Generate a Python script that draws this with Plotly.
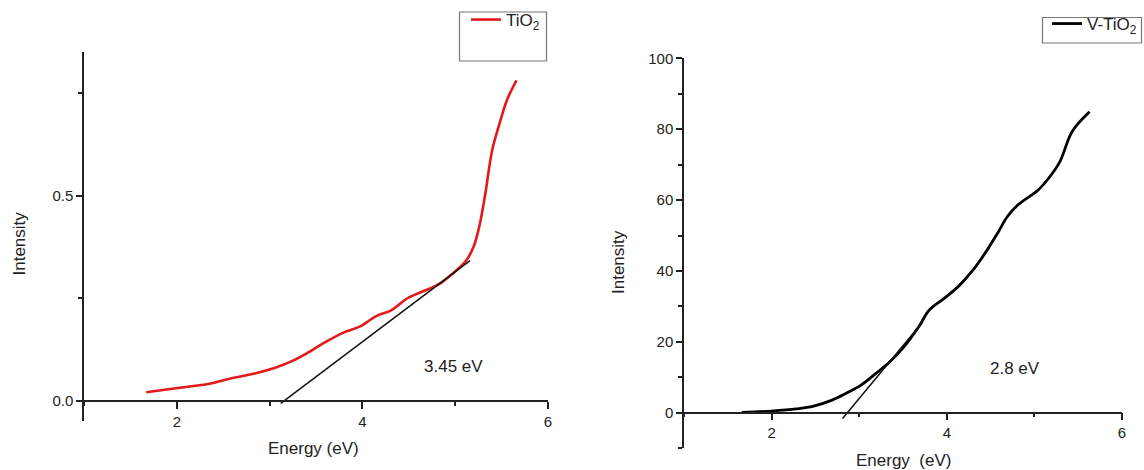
import plotly.graph_objects as go

# ---- data ----
tio2_energy = [1.67, 2.03, 2.35, 2.60, 2.84, 3.06, 3.24, 3.40, 3.59, 3.79, 3.97, 4.15,
               4.31, 4.49, 4.66, 4.82, 4.98, 5.12, 5.20, 5.26, 5.32, 5.40, 5.48, 5.56, 5.66]
tio2_intensity = [0.020, 0.031, 0.041, 0.055, 0.066, 0.080, 0.096, 0.115, 0.141, 0.165, 0.180, 0.206,
                  0.220, 0.250, 0.267, 0.283, 0.311, 0.342, 0.376, 0.425, 0.498, 0.612, 0.677, 0.734, 0.781]
tio2_tangent_x = [3.12, 5.16]
tio2_tangent_y = [-0.007, 0.341]

vtio2_energy = [1.66, 2.00, 2.28, 2.48, 2.69, 2.85, 3.02, 3.18, 3.35, 3.51, 3.68, 3.80, 3.97,
                4.13, 4.30, 4.46, 4.59, 4.69, 4.81, 5.04, 5.16, 5.29, 5.43, 5.63]
vtio2_intensity = [0.1, 0.5, 1.1, 1.9, 3.6, 5.5, 7.8, 10.9, 14.4, 18.6, 24.3, 29.0, 32.3,
                   35.6, 40.3, 45.9, 51.1, 55.3, 58.6, 62.8, 66.1, 70.8, 79.3, 84.9]
vtio2_tangent_x = [2.81, 3.72]
vtio2_tangent_y = [-1.6, 25.5]

band_gap_labels = ["3.45 eV", "2.8 eV"]

W, H = 1144, 470
FONT = "Liberation Sans, Arial, sans-serif"
AX = "#222222"

fig = go.Figure()
fig.add_trace(go.Scatter(x=tio2_energy, y=tio2_intensity, mode="lines", line=dict(color="#e3191b", width=2.6, shape="spline"),
                         name="TiO<sub>2</sub>", xaxis="x", yaxis="y", legend="legend"))
fig.add_trace(go.Scatter(x=tio2_tangent_x, y=tio2_tangent_y, mode="lines", line=dict(color="#111", width=1.5),
                         showlegend=False, xaxis="x", yaxis="y"))
fig.add_trace(go.Scatter(x=vtio2_energy, y=vtio2_intensity, mode="lines", line=dict(color="#000", width=2.8, shape="spline"),
                         name="V-TiO<sub>2</sub>", xaxis="x2", yaxis="y2", legend="legend2"))
fig.add_trace(go.Scatter(x=vtio2_tangent_x, y=vtio2_tangent_y, mode="lines", line=dict(color="#111", width=1.5),
                         showlegend=False, xaxis="x2", yaxis="y2"))

def px_x(p):
    return p / W

def px_y(p):
    return 1 - p / H

common = dict(showline=True, linecolor=AX, linewidth=1.5, ticks="outside", tickcolor=AX, tickwidth=1.5,
              showgrid=False, zeroline=False, automargin=False,
              tickfont=dict(family=FONT, size=15, color=AX))

fig.update_layout(
    template="none",
    width=W, height=H, margin=dict(l=0, r=0, t=0, b=0, pad=0, autoexpand=False),
    paper_bgcolor="white", plot_bgcolor="white",
    font=dict(family=FONT, color=AX),
    xaxis=dict(domain=[px_x(84), px_x(548)], range=[1, 6], anchor="free", position=px_y(401),
               dtick=2, tick0=0, ticklen=7, minor=dict(dtick=1, ticklen=4, ticks="outside", tickcolor=AX), **common),
    yaxis=dict(domain=[px_y(421), px_y(52)], range=[-0.05, 0.85], anchor="x",
               dtick=0.5, tick0=0, tickformat=".1f", ticklen=6,
               minor=dict(dtick=0.25, ticklen=4, ticks="outside", tickcolor=AX), **common),
    xaxis2=dict(domain=[px_x(684), px_x(1122)], range=[1, 6], anchor="free", position=px_y(412.7),
                dtick=2, tick0=0, ticklen=7, minor=dict(dtick=1, ticklen=4, ticks="outside", tickcolor=AX), **common),
    yaxis2=dict(domain=[px_y(448.3), px_y(58.3)], range=[-10, 100], anchor="x2",
                dtick=20, tick0=0, ticklen=6,
                minor=dict(dtick=10, ticklen=4, ticks="outside", tickcolor=AX), **common),
    legend=dict(x=px_x(466), y=px_y(2), xanchor="left", yanchor="top", bgcolor="rgba(0,0,0,0)",
                borderwidth=0, font=dict(family=FONT, size=17, color=AX)),
    legend2=dict(x=px_x(1047), y=px_y(6), xanchor="left", yanchor="top", bgcolor="rgba(0,0,0,0)",
                 borderwidth=0, font=dict(family=FONT, size=17, color=AX)),
    shapes=[
        dict(type="rect", xref="paper", yref="paper", x0=px_x(459.5), x1=px_x(546.5), y0=px_y(61), y1=px_y(12),
             line=dict(color="#777", width=1.2)),
        dict(type="rect", xref="paper", yref="paper", x0=px_x(1042.5), x1=px_x(1141.5), y0=px_y(43), y1=px_y(17.5),
             line=dict(color="#777", width=1.2)),
    ],
    annotations=[
        dict(text=band_gap_labels[0], x=4.98, y=0.083, xref="x", yref="y", showarrow=False,
             xanchor="center", yanchor="middle", font=dict(family=FONT, size=17, color=AX)),
        dict(text=band_gap_labels[1], x=4.78, y=12.6, xref="x2", yref="y2", showarrow=False,
             xanchor="center", yanchor="middle", font=dict(family=FONT, size=17, color=AX)),
        dict(text="Energy (eV)", x=px_x(313), y=px_y(448), xref="paper", yref="paper", showarrow=False,
             xanchor="center", yanchor="middle", font=dict(family=FONT, size=17, color=AX)),
        dict(text="Energy \u00a0(eV)", x=px_x(903), y=px_y(460), xref="paper", yref="paper", showarrow=False,
             xanchor="center", yanchor="middle", font=dict(family=FONT, size=17, color=AX)),
        dict(text="Intensity", x=px_x(18.5), y=px_y(244), xref="paper", yref="paper", showarrow=False,
             xanchor="center", yanchor="middle", textangle=-90, font=dict(family=FONT, size=17, color=AX)),
        dict(text="Intensity", x=px_x(618), y=px_y(262), xref="paper", yref="paper", showarrow=False,
             xanchor="center", yanchor="middle", textangle=-90, font=dict(family=FONT, size=17, color=AX)),
    ],
)

fig.write_html("out.html")
